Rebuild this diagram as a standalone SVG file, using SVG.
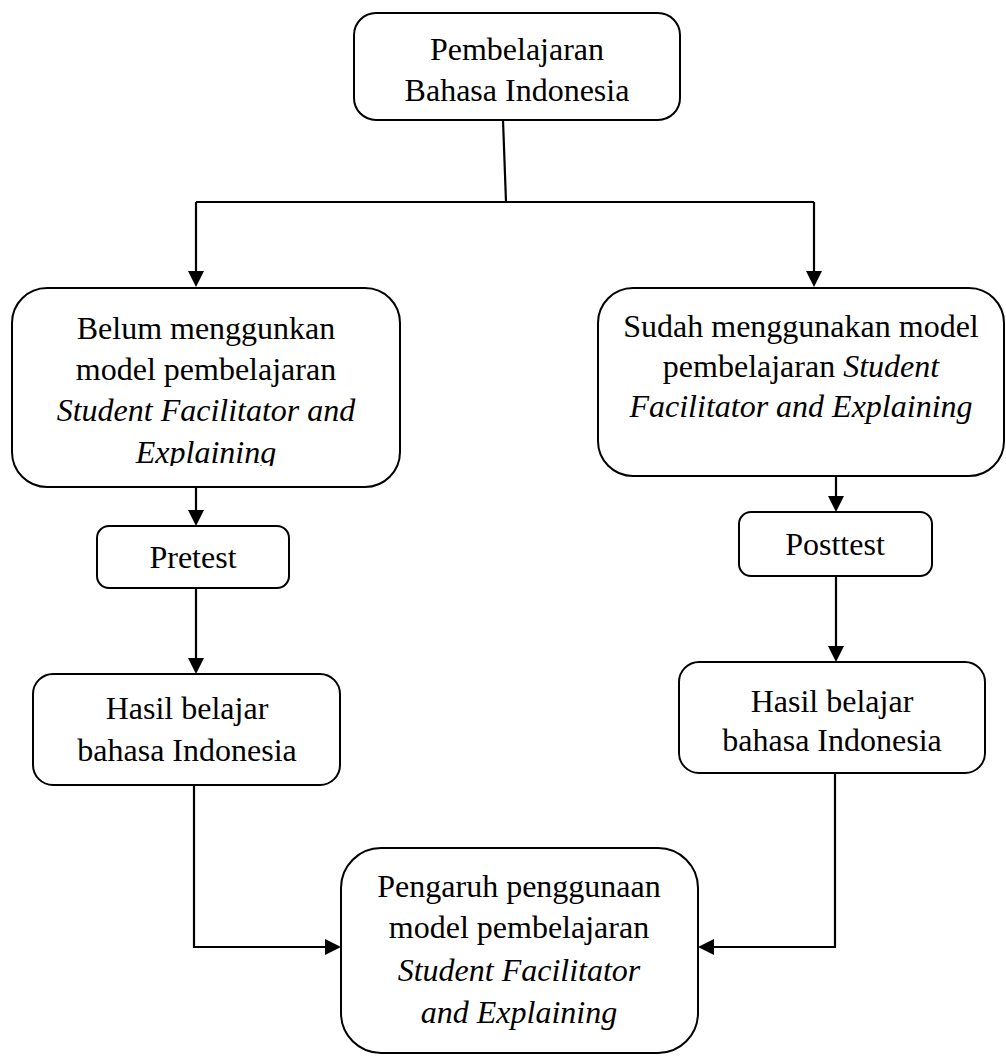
<svg xmlns="http://www.w3.org/2000/svg" width="1006" height="1057" viewBox="0 0 1006 1057">
<style>
.box{fill:#fff;stroke:#000;stroke-width:2}
.t{font-family:'Liberation Serif','Times New Roman','DejaVu Serif',serif;font-size:32px;fill:#000;text-anchor:middle}
.i{font-style:italic}
.c{fill:none;stroke:#000;stroke-width:2.2}
</style>
<defs>
<marker id="ah" viewBox="0 0 16 16" refX="10" refY="8" markerWidth="16" markerHeight="16" markerUnits="userSpaceOnUse" orient="auto">
<path d="M0,0 L16,8 L0,16 z" fill="#000"/>
</marker>
<clipPath id="clipL"><rect x="0" y="280" width="420" height="186"/></clipPath>
</defs>
<rect width="1006" height="1057" fill="#fff"/>
<g id="connectors">
<path class="c" d="M503,120 L506,202"/>
<path class="c" d="M196,202 H814"/>
<path class="c" d="M196,202 V281" marker-end="url(#ah)"/>
<path class="c" d="M814,202 V281" marker-end="url(#ah)"/>
<path class="c" d="M196,487 V520" marker-end="url(#ah)"/>
<path class="c" d="M196,588 V668" marker-end="url(#ah)"/>
<path class="c" d="M836,476 V506" marker-end="url(#ah)"/>
<path class="c" d="M836,576 V656" marker-end="url(#ah)"/>
<path class="c" d="M194,785 V947 H335" marker-end="url(#ah)"/>
<path class="c" d="M835,773 V947 H704" marker-end="url(#ah)"/>
</g>
<g font-family="'Liberation Serif', 'Times New Roman', serif">
<g id="n-top">
<rect class="box" x="354" y="13" width="326" height="107" rx="22"/>
<text class="t" x="517" y="60">Pembelajaran</text>
<text class="t" x="517" y="101">Bahasa Indonesia</text>
</g>
<g id="n-belum">
<rect class="box" x="12" y="288" width="388" height="199" rx="35"/>
<g clip-path="url(#clipL)">
<text class="t" x="206" y="339">Belum menggunkan</text>
<text class="t" x="206" y="380">model pembelajaran</text>
<text class="t i" x="206" y="421">Student Facilitator and</text>
<text class="t i" x="206" y="463">Explaining</text>
</g>
</g>
<g id="n-sudah">
<rect class="box" x="598" y="288" width="406" height="188" rx="35"/>
<text class="t" x="801" y="337">Sudah menggunakan model</text>
<text class="t" x="801" y="377">pembelajaran <tspan class="i">Student</tspan></text>
<text class="t i" x="801" y="417">Facilitator and Explaining</text>
</g>
<g id="n-pretest">
<rect class="box" x="97" y="526" width="192" height="62" rx="12"/>
<text class="t" x="193" y="568">Pretest</text>
</g>
<g id="n-posttest">
<rect class="box" x="739" y="512" width="193" height="64" rx="12"/>
<text class="t" x="835" y="555">Posttest</text>
</g>
<g id="n-hasil-left">
<rect class="box" x="33" y="674" width="307" height="111" rx="20"/>
<text class="t" x="187" y="719">Hasil belajar</text>
<text class="t" x="187" y="761">bahasa Indonesia</text>
</g>
<g id="n-hasil-right">
<rect class="box" x="679" y="662" width="306" height="111" rx="20"/>
<text class="t" x="832" y="712">Hasil belajar</text>
<text class="t" x="832" y="751">bahasa Indonesia</text>
</g>
<g id="n-pengaruh">
<rect class="box" x="341" y="848" width="357" height="205" rx="40"/>
<text class="t" x="519" y="897">Pengaruh penggunaan</text>
<text class="t" x="519" y="938">model pembelajaran</text>
<text class="t i" x="519" y="981">Student Facilitator</text>
<text class="t i" x="519" y="1023">and Explaining</text>
</g>
</g>
</svg>
